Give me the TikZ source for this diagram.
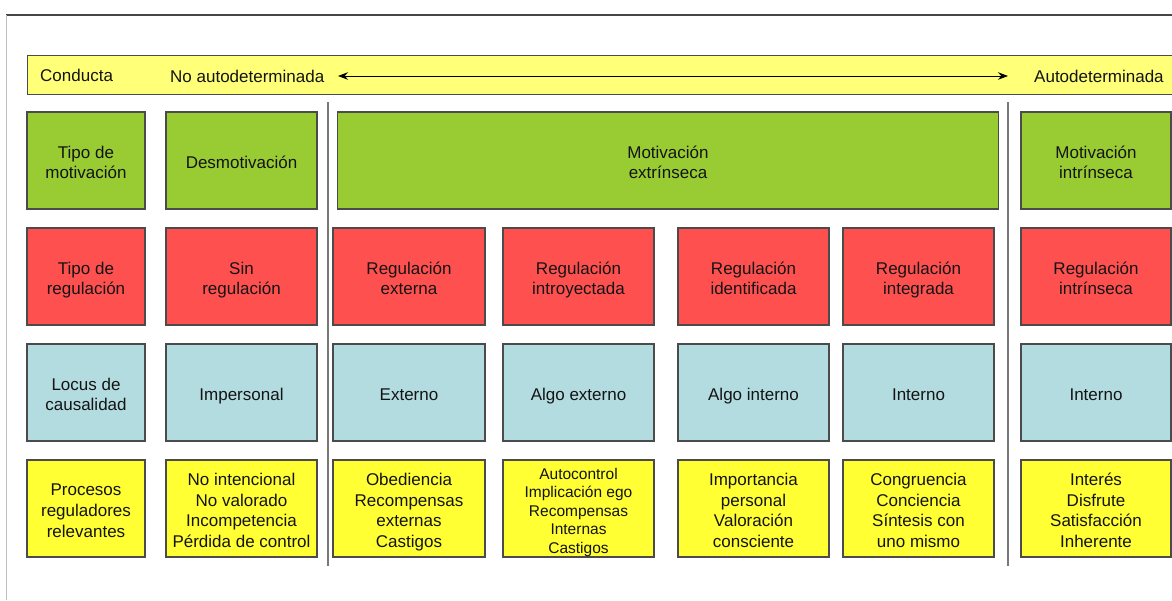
\documentclass[tikz,border=0pt]{standalone}
\usepackage{fontspec}
\setmainfont{Liberation Sans}
\usetikzlibrary{arrows.meta}
\definecolor{gbox}{RGB}{153,204,51}
\definecolor{rbox}{RGB}{255,80,80}
\definecolor{bbox}{RGB}{178,220,224}
\definecolor{ybox}{RGB}{255,255,51}
\definecolor{ybar}{RGB}{255,255,120}
\definecolor{edge}{RGB}{75,75,75}
\definecolor{txt}{RGB}{20,20,20}
\newcommand{\cellA}{\rule{0pt}{20.7pt}}
\newcommand{\cellB}{\rule[-5pt]{0pt}{5pt}}
\newcommand{\smallA}{\rule{0pt}{19pt}}
\newcommand{\smallB}{\rule[-3.3pt]{0pt}{3.3pt}}
\tikzset{
  cell/.style={draw=edge, line width=1.4pt, align=center, text=txt, inner xsep=2pt, inner ysep=0pt,
    font=\fontsize{17}{20.7}\selectfont, minimum height=97pt},
  wA/.style={minimum width=118pt},
  wB/.style={minimum width=151pt},
  sep/.style={draw={rgb,255:red,120;green,120;blue,120}, line width=1.5pt},
  lbl/.style={text=txt, inner sep=0pt, font=\fontsize{17}{20.7}\selectfont, anchor=west},
}
\begin{document}
\begin{tikzpicture}[x=1pt,y=-1pt]
\useasboundingbox (0,0) rectangle (1172,600);
% frame lines
\coordinate (tl) at (6,15);
\coordinate (tr) at (1172,15);
\coordinate (bl) at (6,600);
\draw[draw={rgb,255:red,70;green,70;blue,70}, line width=1.5pt] (tl) -- (tr);
\draw[draw={rgb,255:red,190;green,190;blue,190}, line width=1pt] (tl) -- (bl);
% top bar
\node[draw=edge, line width=1.4pt, fill=ybar, minimum width=1150pt, minimum height=39pt, inner sep=0pt, anchor=north west] (bar) at (27,55) {};
\node[lbl] (cond) at (40,75) {Conducta};
\node[lbl] (noauto) at (170,76) {No autodeterminada};
\node[lbl] (auto) at (1034,76) {Autodeterminada};
\coordinate (aL) at (338,76);
\coordinate (aR) at (1008,76);
\draw[{Stealth[length=10pt,width=7.5pt]}-{Stealth[length=10pt,width=7.5pt]}, line width=1pt, black] (aL) -- (aR);
% separators
\coordinate (s1t) at (328,102); \coordinate (s1b) at (328,566);
\coordinate (s2t) at (1008,102); \coordinate (s2b) at (1008,566);
\draw[sep] (s1t) -- (s1b);
\draw[sep] (s2t) -- (s2b);
% row 1
\node[cell, wA, fill=gbox] (g1) at (86,160.5) {\cellA Tipo de\\motivación\cellB};
\node[cell, wB, fill=gbox] (g2) at (241.5,160.5) {\cellA Desmotivación\cellB};
\node[cell, minimum width=661pt, fill=gbox] (g3) at (668,160.5) {\cellA Motivación\\extrínseca\cellB};
\node[cell, minimum width=150pt, fill=gbox] (g7) at (1096,160.5) {\cellA Motivación\\intrínseca\cellB};
% row 2
\node[cell, wA, fill=rbox] (r1) at (86,276.5) {\cellA Tipo de\\regulación\cellB};
\node[cell, wB, fill=rbox] (r2) at (241.5,276.5) {\cellA Sin\\regulación\cellB};
\node[cell, minimum width=152pt, fill=rbox] (r3) at (409,276.5) {\cellA Regulación\\externa\cellB};
\node[cell, wB, fill=rbox] (r4) at (578.5,276.5) {\cellA Regulación\\introyectada\cellB};
\node[cell, wB, fill=rbox] (r5) at (753.5,276.5) {\cellA Regulación\\identificada\cellB};
\node[cell, wB, fill=rbox] (r6) at (918.5,276.5) {\cellA Regulación\\integrada\cellB};
\node[cell, minimum width=150pt, fill=rbox] (r7) at (1096,276.5) {\cellA Regulación\\intrínseca\cellB};
% row 3
\node[cell, wA, fill=bbox] (b1) at (86,392.5) {\cellA Locus de\\causalidad\cellB};
\node[cell, wB, fill=bbox] (b2) at (241.5,392.5) {\cellA Impersonal\cellB};
\node[cell, minimum width=152pt, fill=bbox] (b3) at (409,392.5) {\cellA Externo\cellB};
\node[cell, wB, fill=bbox] (b4) at (578.5,392.5) {\cellA Algo externo\cellB};
\node[cell, wB, fill=bbox] (b5) at (753.5,392.5) {\cellA Algo interno\cellB};
\node[cell, wB, fill=bbox] (b6) at (918.5,392.5) {\cellA Interno\cellB};
\node[cell, minimum width=150pt, fill=bbox] (b7) at (1096,392.5) {\cellA Interno\cellB};
% row 4
\node[cell, wA, fill=ybox] (y1) at (86,508.5) {\cellA Procesos\\reguladores\\relevantes\cellB};
\node[cell, wB, fill=ybox] (y2) at (241.5,508.5) {\cellA No intencional\\No valorado\\Incompetencia\\Pérdida de control\cellB};
\node[cell, minimum width=152pt, fill=ybox] (y3) at (409,508.5) {\cellA Obediencia\\Recompensas\\externas\\Castigos\cellB};
\node[cell, wB, fill=ybox, font=\fontsize{15.5}{18.5}\selectfont] (y4) at (578.5,508.5) {\smallA Autocontrol\\Implicación ego\\Recompensas\\Internas\\Castigos\smallB};
\node[cell, wB, fill=ybox] (y5) at (753.5,508.5) {\cellA Importancia\\personal\\Valoración\\consciente\cellB};
\node[cell, wB, fill=ybox] (y6) at (918.5,508.5) {\cellA Congruencia\\Conciencia\\Síntesis con\\uno mismo\cellB};
\node[cell, minimum width=150pt, fill=ybox] (y7) at (1096,508.5) {\cellA Interés\\Disfrute\\Satisfacción\\Inherente\cellB};
\end{tikzpicture}
\end{document}
